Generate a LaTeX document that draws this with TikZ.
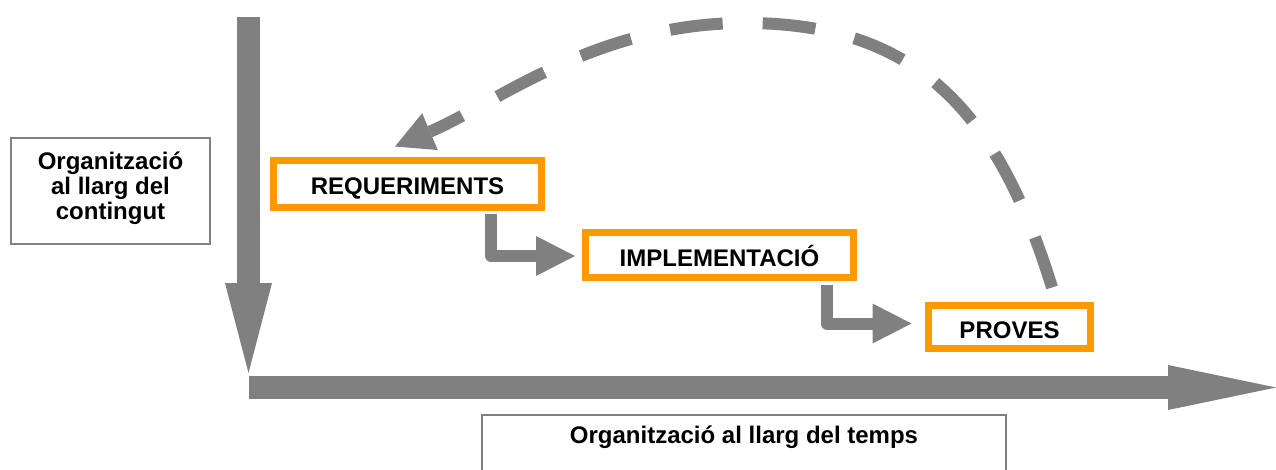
\documentclass[tikz,border=0pt]{standalone}
\usepackage{fontspec}
\setmainfont{Liberation Sans}
\usetikzlibrary{arrows.meta}
\definecolor{grijs}{HTML}{808080}
\definecolor{oranje}{HTML}{FF9900}

\begin{document}
\begin{tikzpicture}[x=1pt,y=-1pt,
  font=\bfseries\fontsize{24}{25}\selectfont,
  fase/.style={draw=oranje,line width=7pt,fill=white,inner sep=0pt,text height=22pt,text depth=0pt},
  kader/.style={draw=grijs,line width=2pt},
  asarrow/.style={draw=grijs,line width=23pt},
  pijl/.style={draw=grijs,line width=12pt,line join=round,-{Triangle[length=39pt,width=40pt,line width=0pt]}},
  terug/.style={draw=grijs,line width=12pt,dash pattern=on 53pt off 40pt,-{Triangle[length=38pt,width=40pt,line width=0pt]}}]
\useasboundingbox (0,0) rectangle (1276,470);

\node[kader,minimum width=199pt,minimum height=106pt] (c) at (110.5,191) {};
\node[align=center] (ct) at (110.5,188) {Organització\\al llarg del\\contingut};
\node[kader,anchor=north,minimum width=524pt,inner ysep=11pt,text height=17pt,text depth=70pt] (t) at (744,414) {Organització al llarg del temps};

\coordinate (boven) at (248.5,17);
\coordinate (hoek) at (248.5,373);
\coordinate (links) at (249,387.5);
\coordinate (rechts) at (1276,387.5);
\draw[asarrow,-{Triangle[length=90pt,width=47pt,line width=0pt]}] (boven) -- (hoek);
\draw[asarrow,-{Triangle[length=108pt,width=45pt,line width=0pt]}] (links) -- (rechts);

\node[fase,minimum width=268pt,minimum height=47pt] (r) at (407.5,184) {REQUERIMENTS};
\node[fase,minimum width=268pt,minimum height=45pt] (i) at (719.5,255) {IMPLEMENTACIÓ};
\node[fase,minimum width=162pt,minimum height=43pt] (p) at (1009.5,327) {PROVES};

\draw[pijl,shorten <=3.5pt,shorten >=7pt] ([xshift=83.5pt]r.south) |- ([yshift=-1pt]i.west);
\draw[pijl,shorten <=3.5pt,shorten >=13.5pt] ([xshift=107.5pt]i.south) |- ([yshift=3.5pt]p.west);
\draw[terug] ([xshift=42.5pt,yshift=14.5pt]p.north) .. controls (997,109) and (915,23) .. (745,23)
  .. controls (595,23) and (495,104) .. ([xshift=-12.5pt,yshift=10.5pt]r.north);
\end{tikzpicture}
\end{document}
